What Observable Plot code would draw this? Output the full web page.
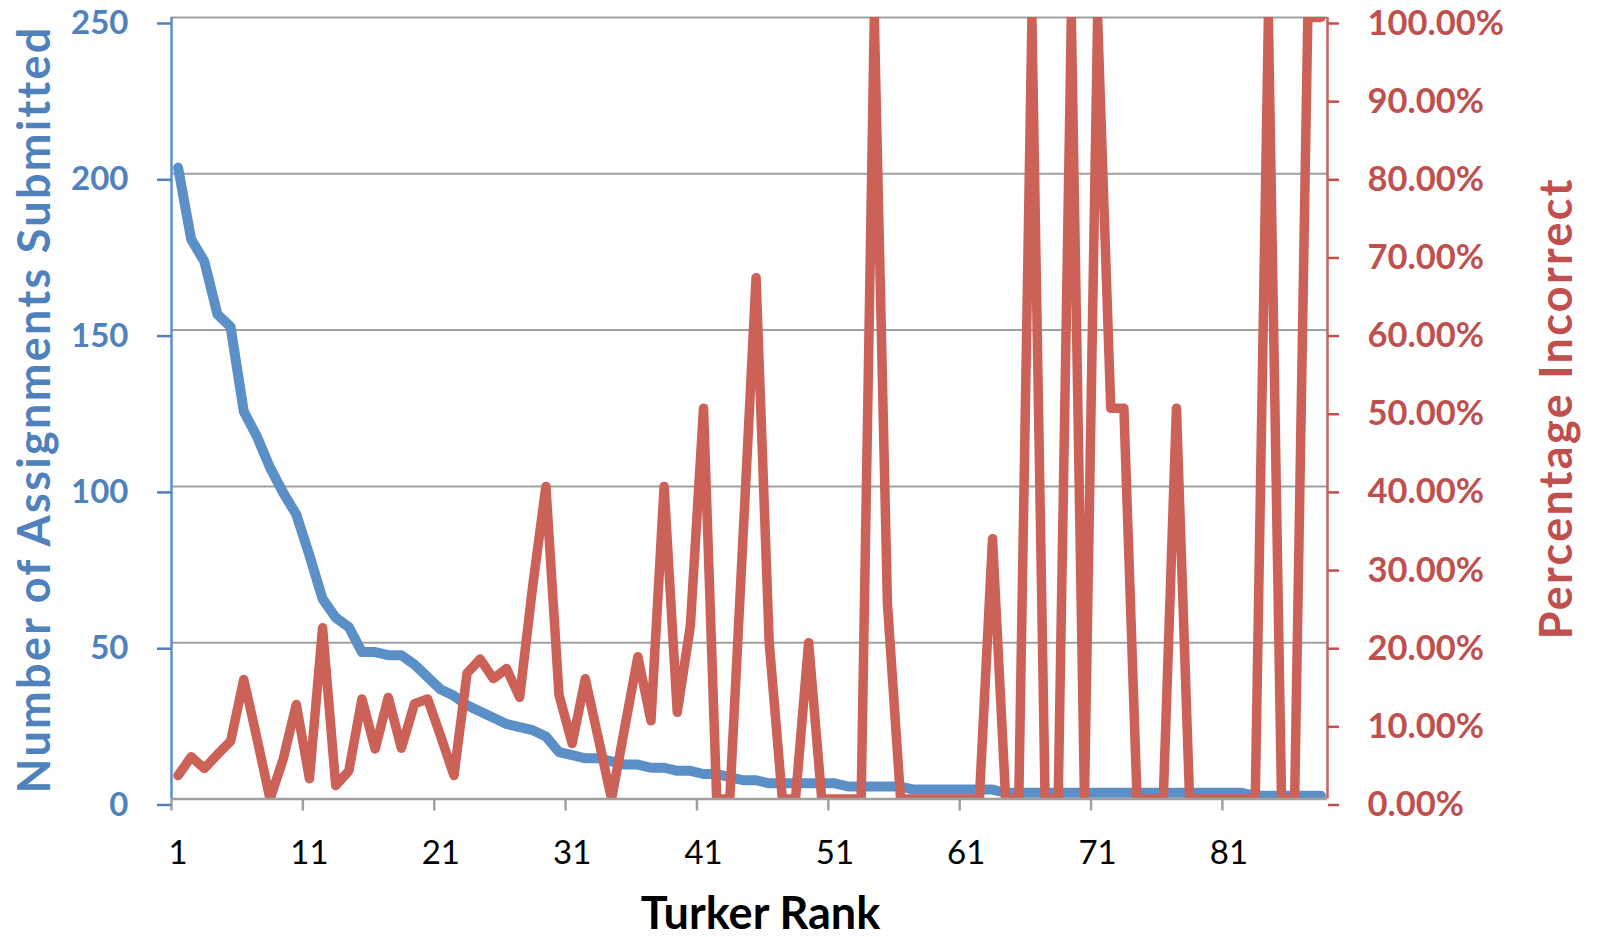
<!DOCTYPE html>
<html>
<head>
<meta charset="utf-8">
<script src="https://cdn.jsdelivr.net/npm/d3@7"></script>
<script src="https://cdn.jsdelivr.net/npm/@observablehq/plot@0.6"></script>
<style>
  html, body { margin: 0; padding: 0; background: #fff; }
  #chart svg { display: block; }
</style>
</head>
<body>
<div id="chart"></div>
<script>
// Turker rank (1 = most assignments submitted)
const ranks = d3.range(1, 89);

// Number of assignments submitted by each turker
const assignments = [
  202, 179, 172, 155, 151, 124, 116, 106, 98, 91,
  78, 64, 58, 55, 47, 47, 46, 46, 43, 39,
  35, 33, 30, 28, 26, 24, 23, 22, 20, 15,
  14, 13, 13, 12, 11, 11, 10, 10, 9, 9,
  8, 8, 7, 6, 6, 5, 5, 5, 5, 5,
  5, 4, 4, 4, 4, 4, 3, 3, 3, 3,
  3, 3, 3, 2, 2, 2, 2, 2, 2, 2,
  2, 2, 2, 2, 2, 2, 2, 2, 2, 2,
  2, 2, 1, 1, 1, 1, 1, 1
];

// Share of each turker's assignments that were incorrect (%)
const pctIncorrect = [
  3.0, 5.4, 3.9, 5.7, 7.4, 15.3, 7.8, 0, 5.1, 12.1,
  2.6, 21.9, 1.7, 3.6, 12.8, 6.4, 13.0, 6.5, 12.2, 12.8,
  8.0, 3.0, 16.1, 17.9, 15.4, 16.7, 13.0, 27.3, 40.0, 13.3,
  7.1, 15.4, 7.7, 0, 9.1, 18.2, 10.0, 40.0, 11.1, 22.2,
  50.0, 0, 0, 33.3, 66.7, 20.0, 0, 0, 20.0, 0,
  0, 0, 0, 100, 25.0, 0, 0, 0, 0, 0,
  0, 0, 33.3, 0, 0, 100, 0, 0, 100, 0,
  100, 50, 50, 0, 0, 0, 50, 0, 0, 0,
  0, 0, 0, 100, 0, 0, 100, 100
];

// Axis ticks
const countTicks = [0, 50, 100, 150, 200, 250];
const pctTicks = [0, 10, 20, 30, 40, 50, 60, 70, 80, 90, 100];
const rankLabels = [1, 11, 21, 31, 41, 51, 61, 71, 81];
const rankTickMarks = [0.5, 10.5, 20.5, 30.5, 40.5, 50.5, 60.5, 70.5, 80.5];

// Axis titles
const xTitle = "Turker Rank";
const leftTitle = "Number of Assignments Submitted";
const rightTitle = "Percentage Incorrect";

// The percentage series shares the count scale: 100% ↔ 250 assignments
const pctToCount = 250 / 100;

const blueLine = "#5B8FC8", blueText = "#4F81BD";
const redLine = "#CC6158", redText = "#C0504D";
const gridGray = "#A0A0A0";

const countRows = ranks.map((r, i) => ({rank: r, value: assignments[i]}));
const pctRows = ranks.map((r, i) => ({rank: r, value: pctIncorrect[i] * pctToCount}));

const chart = Plot.plot({
  width: 1598,
  height: 937,
  marginLeft: 171,
  marginRight: 271,
  marginTop: 17,
  marginBottom: 138.5,
  style: {fontFamily: "Lato, 'Open Sans', sans-serif", background: "#fff", overflow: "visible"},
  x: {domain: [0.5, 88.5], axis: null},
  y: {domain: [0, 250], axis: null},
  marks: [
    // horizontal gridlines
    Plot.ruleY(countTicks.filter(d => d > 0), {stroke: gridGray, strokeWidth: 2}),

    // assignments submitted
    Plot.line(countRows, {
      x: "rank", y: "value", stroke: blueLine, strokeWidth: 10,
      strokeLinejoin: "round", strokeLinecap: "round", clip: true
    }),

    // percentage incorrect
    Plot.line(pctRows, {
      x: "rank", y: "value", stroke: redLine, strokeWidth: 9.5,
      strokeLinejoin: "round", strokeLinecap: "round", clip: true
    }),

    // axis lines
    Plot.ruleY([0], {stroke: gridGray, strokeWidth: 2.5}),
    Plot.ruleX([0.5], {stroke: blueLine, strokeWidth: 2.5}),
    Plot.ruleX([88.5], {stroke: redLine, strokeWidth: 2.5}),

    // bottom axis: tick marks between categories, labels on every tenth rank
    Plot.axisX({ticks: rankTickMarks, tickSize: 12, tickFormat: () => "", label: null,
      stroke: gridGray, strokeWidth: 2.5}),
    Plot.axisX({ticks: rankLabels, tickSize: 0, tickPadding: 41.5, tickFormat: d => String(d),
      label: null, fontSize: 33, fill: "#000"}),

    // left axis (assignments)
    Plot.axisY({anchor: "left", ticks: countTicks, tickSize: 14, tickPadding: 29, label: null,
      tickFormat: d => String(d), color: blueText, strokeWidth: 2.5,
      fontSize: 33, fontWeight: "bold", dy: 6}),

    // right axis (percentage)
    Plot.axisY({anchor: "right", ticks: pctTicks.map(p => p * pctToCount), tickSize: 11, tickPadding: 29,
      label: null, tickFormat: d => (d / pctToCount).toFixed(2) + "%", color: redText, strokeWidth: 2.5,
      fontSize: 34.5, fontWeight: "bold", dy: 6}),

    // axis titles
    Plot.text([xTitle], {text: d => d, frameAnchor: "bottom", textAnchor: "middle",
      lineAnchor: "middle", dx: 11, dy: 116, fontSize: 45, fontWeight: "bold", fill: "#000"}),
    Plot.text([leftTitle], {text: d => d, frameAnchor: "left", rotate: -90,
      textAnchor: "middle", lineAnchor: "middle", dx: -136, dy: 1,
      fontSize: 45, fontWeight: "bold", fill: blueText}),
    Plot.text([rightTitle], {text: d => d, frameAnchor: "right", rotate: -90,
      textAnchor: "middle", lineAnchor: "middle", dx: 230, dy: 0,
      fontSize: 45, fontWeight: "bold", fill: redText})
  ]
});

// the vertical titles are set a little wider
d3.select(chart).selectAll("text")
  .filter(function () { return this.textContent === leftTitle || this.textContent === rightTitle; })
  .attr("letter-spacing", "2.3px");

document.getElementById("chart").appendChild(chart);
</script>
</body>
</html>
